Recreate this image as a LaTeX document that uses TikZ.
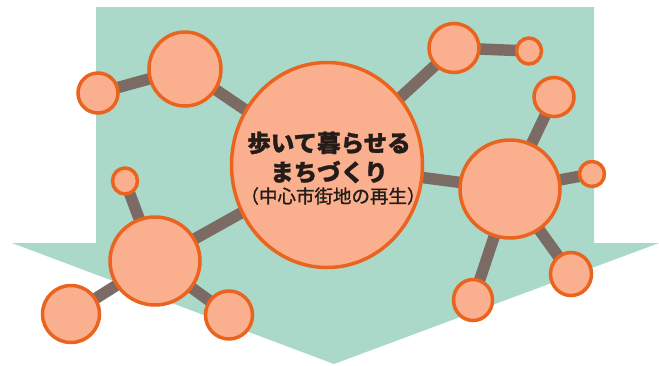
\documentclass[tikz,border=0pt]{standalone}
\usepackage{fontspec}
\newfontfamily\jp{Noto Sans CJK JP}[BoldFeatures={FakeBold=1.2}]
\newfontfamily\jpmed{Noto Sans CJK JP}[FakeBold=1.2]
\usetikzlibrary{shapes.geometric}
\pgfdeclarelayer{bg}
\pgfdeclarelayer{edges}
\pgfsetlayers{bg,edges,main}
\definecolor{teal1}{RGB}{170,217,201}
\definecolor{salmon}{RGB}{250,176,142}
\definecolor{orng}{RGB}{234,100,32}
\definecolor{stick}{RGB}{124,106,101}
\definecolor{ink}{RGB}{35,28,25}
\tikzset{
  bub/.style={ellipse, draw=orng, fill=salmon, line width=3.5pt, inner sep=0pt},
  link/.style={draw=stick, line width=11.5pt},
  lbl/.style={text=ink, inner sep=0pt, font=\jp\bfseries}
}
\begin{document}
\begin{tikzpicture}[x=1pt,y=-1pt]
\useasboundingbox (0,0) rectangle (659,365);
\begin{pgfonlayer}{bg}
\fill[teal1] (96,7) -- (594,7) -- (594,243) -- (659,243) -- (334,364) -- (12,243) -- (96,243) -- cycle;
\end{pgfonlayer}
% nodes
\node[bub, minimum width=191pt, minimum height=205pt] (c) at (327,165) {};
\node[bub, minimum width=72pt, minimum height=74pt] (tl) at (185,69) {};
\node[bub, minimum width=40pt, minimum height=40pt] (fl) at (98,93) {};
\node[bub, minimum width=50pt, minimum height=49pt] (tr) at (454,48) {};
\node[bub, minimum width=25pt, minimum height=26pt] (trs) at (529,51) {};
\node[bub, minimum width=40pt, minimum height=39pt] (rus) at (554,97) {};
\node[bub, minimum width=100pt, minimum height=98pt] (rb) at (510,189) {};
\node[bub, minimum width=25pt, minimum height=25pt] (rfs) at (592,174) {};
\node[bub, minimum width=41pt, minimum height=43pt] (rbr) at (571,274) {};
\node[bub, minimum width=39pt, minimum height=41pt] (rbb) at (473,300) {};
\node[bub, minimum width=90pt, minimum height=88pt] (lb) at (155,261) {};
\node[bub, minimum width=25pt, minimum height=26pt] (lts) at (125,181) {};
\node[bub, minimum width=57pt, minimum height=57pt] (lbl) at (71,314) {};
\node[bub, minimum width=47pt, minimum height=48pt] (lbr) at (229,315) {};
% links
\begin{pgfonlayer}{edges}
\draw[link] (fl.center) -- (tl.center);
\draw[link] (tl.center) -- (c.center);
\draw[link] (c.center) -- (tr.center);
\draw[link] (tr.center) -- (trs.center);
\draw[link] (c.center) -- (rb.center);
\draw[link] (rb.center) -- (rus.center);
\draw[link] (rb.center) -- (rfs.center);
\draw[link] (rb.center) -- (rbr.center);
\draw[link] (rb.center) -- (rbb.center);
\draw[link] (c.center) -- (lb.center);
\draw[link] (lb.center) -- (lts.center);
\draw[link] (lb.center) -- (lbl.center);
\draw[link] (lb.center) -- (lbr.center);
\end{pgfonlayer}
% text
\node[lbl, font=\jp\bfseries\fontsize{23.5}{26}\selectfont] (t1) at (329,143) {歩いて暮らせる};
\node[lbl, font=\jp\bfseries\fontsize{23.5}{26}\selectfont] (t2) at (329,172) {まちづくり};
\node[lbl, font=\jpmed\fontsize{18.5}{20}\selectfont] (t3) at (333,196) {（中心市街地の再生）};
\end{tikzpicture}
\end{document}
